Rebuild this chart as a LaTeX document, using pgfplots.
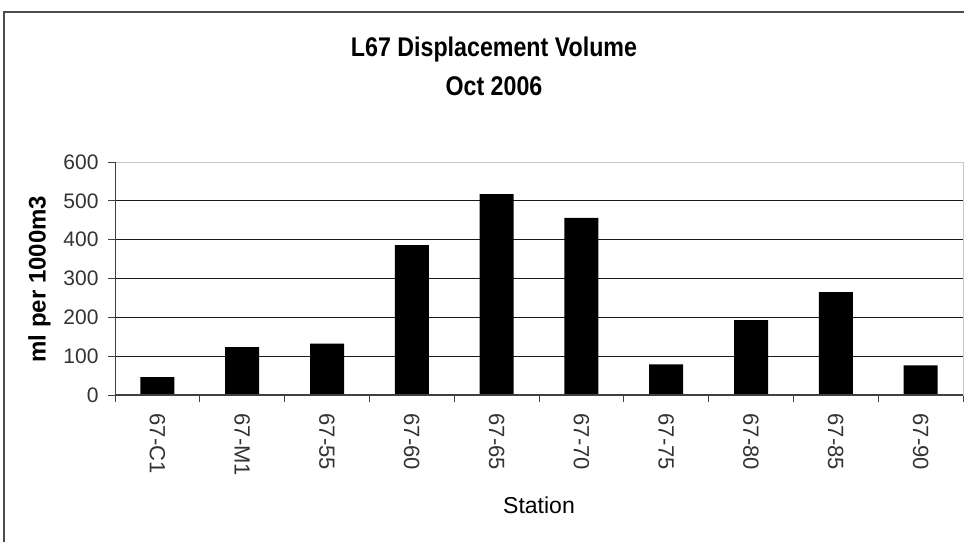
\documentclass[border=0pt]{standalone}
\usepackage{fontspec}
\setmainfont{Liberation Sans}
\newfontfamily\titlefont[FakeStretch=0.86]{Liberation Sans}
\usepackage{pgfplots}
\pgfplotsset{compat=1.18}
\begin{document}
\begin{tikzpicture}
\useasboundingbox (0pt,0pt) rectangle (964pt,542pt);
\fill[white] (0pt,0pt) rectangle (964pt,542pt);
\draw[black!70, line width=1.5pt] (4pt,0pt) -- (4pt,530pt) -- (964pt,530pt);
\begin{axis}[
  at={(115pt,147pt)}, anchor=south west,
  scale only axis, width=848pt, height=233pt,
  xmin=0.5, xmax=10.5, ymin=0, ymax=600,
  ybar, bar width=34pt,
  xtick={1,...,10},
  xticklabels={67-C1,67-M1,67-55,67-60,67-65,67-70,67-75,67-80,67-85,67-90},
  minor xtick={0.5,1.5,2.5,3.5,4.5,5.5,6.5,7.5,8.5,9.5,10.5},
  ytick={0,100,...,600},
  tick align=outside, major tick length=7pt, minor tick length=7pt,
  xtick pos=bottom, ytick pos=left,
  tick style={black!75, line width=1pt},
  major x tick style={draw=none},
  axis line style={black!22, line width=1pt},
  extra y ticks={100,200,300,400,500}, extra y tick labels={},
  extra y tick style={grid=major, major grid style={black!90, line width=1pt}},
  /pgf/number format/assume math mode=true,
  yticklabel style={font=\fontsize{21}{24}\selectfont, text=black!80},
  xticklabel style={font=\fontsize{22}{24}\selectfont, text=black!80, rotate=-90, anchor=west},
  xticklabel shift=8pt, yticklabel shift=6pt,
]
\addplot[fill=black, draw=none] coordinates {
  (1,46) (2,123) (3,132) (4,386) (5,517) (6,456) (7,79) (8,193) (9,265) (10,76)};
\draw[black!75, line width=1.3pt] (rel axis cs:0,1) -- (rel axis cs:0,0) -- (rel axis cs:1,0);
\end{axis}
\node[anchor=base, font=\titlefont\bfseries\fontsize{27}{32}\selectfont] at (494pt,485pt) {L67 Displacement Volume};
\node[anchor=base, font=\titlefont\bfseries\fontsize{27}{32}\selectfont] at (494pt,446.5pt) {Oct 2006};
\node[anchor=base, rotate=90, font=\bfseries\fontsize{24}{28}\selectfont] at (45.5pt,263pt) {ml per 1000m3};
\node[anchor=base, font=\fontsize{23}{28}\selectfont] at (539pt,29pt) {Station};
\end{tikzpicture}
\end{document}
